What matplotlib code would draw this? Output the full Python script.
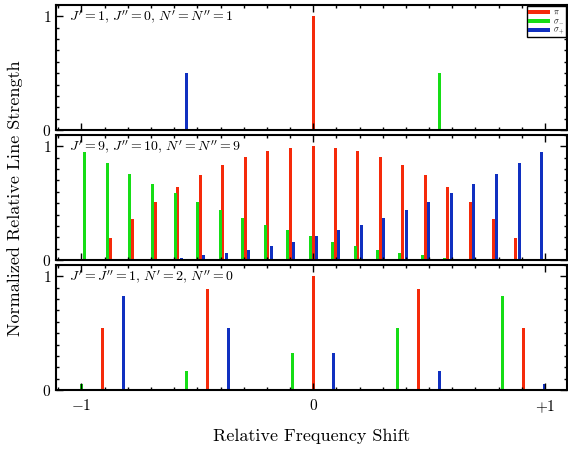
import matplotlib
matplotlib.use("Agg")
import matplotlib.pyplot as plt
from matplotlib.ticker import MultipleLocator

plt.rcParams["font.family"] = "serif"
plt.rcParams["font.serif"] = ["cmr10"]
plt.rcParams["mathtext.fontset"] = "cm"
plt.rcParams["axes.unicode_minus"] = False
plt.rcParams["axes.formatter.use_mathtext"] = True

# top panel: J'=1, J''=0, N'=N''=1
top_pi_x = [0.0]
top_pi_h = [1.0]
top_sm_x = [0.546]
top_sm_h = [0.5]
top_sp_x = [-0.546]
top_sp_h = [0.5]

# middle panel: J'=9, J''=10, N'=N''=9
mid_pi_x = [-0.875, -0.780, -0.680, -0.584, -0.488, -0.390, -0.292, -0.196, -0.098, 0.0,
            0.095, 0.193, 0.289, 0.387, 0.484, 0.581, 0.678, 0.776, 0.872]
mid_pi_h = [0.19, 0.36, 0.51, 0.64, 0.75, 0.84, 0.91, 0.96, 0.99, 1.0,
            0.99, 0.96, 0.91, 0.84, 0.75, 0.64, 0.51, 0.36, 0.19]
mid_sm_x = [-0.985, -0.888, -0.791, -0.693, -0.596, -0.499, -0.401, -0.305, -0.207, -0.111,
            -0.013, 0.084, 0.181, 0.278, 0.374, 0.472, 0.568, 0.665, 0.763]
mid_sm_h = [0.95, 0.85, 0.76, 0.67, 0.59, 0.51, 0.44, 0.37, 0.31, 0.26,
            0.21, 0.16, 0.12, 0.09, 0.06, 0.04, 0.02, 0.01, 0.004]
mid_sp_x = [-0.763, -0.665, -0.568, -0.472, -0.374, -0.278, -0.181, -0.084, 0.013, 0.111,
            0.207, 0.305, 0.401, 0.499, 0.596, 0.693, 0.791, 0.888, 0.985]
mid_sp_h = [0.004, 0.01, 0.02, 0.04, 0.06, 0.09, 0.12, 0.16, 0.21, 0.26,
            0.31, 0.37, 0.44, 0.51, 0.59, 0.67, 0.76, 0.85, 0.95]

# bottom panel: J'=J''=1, N'=2, N''=0
bot_pi_x = [-0.911, -0.456, 0.0, 0.453, 0.906]
bot_pi_h = [0.55, 0.89, 1.0, 0.89, 0.55]
bot_sm_x = [-1.0, -0.546, -0.09, 0.363, 0.817]
bot_sm_h = [0.05, 0.17, 0.33, 0.55, 0.83]
bot_sp_x = [-0.82, -0.364, 0.089, 0.544, 0.998]
bot_sp_h = [0.83, 0.55, 0.33, 0.17, 0.05]

panel_labels = [
    r"$J' = 1,\, J'' = 0,\, N' = N'' = 1$",
    r"$J' = 9,\, J'' = 10,\, N' = N'' = 9$",
    r"$J' = J'' = 1,\, N' = 2,\, N'' = 0$",
]

red = "#f52a0a"
green = "#16dd16"
blue = "#1030c0"

panels = [
    (top_pi_x, top_pi_h, top_sm_x, top_sm_h, top_sp_x, top_sp_h),
    (mid_pi_x, mid_pi_h, mid_sm_x, mid_sm_h, mid_sp_x, mid_sp_h),
    (bot_pi_x, bot_pi_h, bot_sm_x, bot_sm_h, bot_sp_x, bot_sp_h),
]

fig = plt.figure(figsize=(5.68, 4.5), dpi=100)
W, H = 568.0, 450.0
left, right = 56 / W, 567 / W
tops = [5, 135, 265]
ph = 125

bar_w = 0.013
axes = []
for i, (px, ph_, sx, sh, bx, bh) in enumerate(panels):
    y0 = 1 - (tops[i] + ph) / H
    ax = fig.add_axes([left, y0, right - left, ph / H])
    ax.bar(px, ph_, width=bar_w, color=red, linewidth=0, label=r"$\pi$")
    ax.bar(sx, sh, width=bar_w, color=green, linewidth=0, label=r"$\sigma_-$")
    ax.bar(bx, bh, width=bar_w, color=blue, linewidth=0, label=r"$\sigma_+$")
    ax.set_xlim(-1.11, 1.095)
    ax.set_ylim(0, 1.1)
    ax.set_xticks([-1, 0, 1])
    ax.set_yticks([0, 1])
    ax.xaxis.set_minor_locator(MultipleLocator(0.1))
    ax.yaxis.set_minor_locator(MultipleLocator(0.1))
    ax.tick_params(which="both", direction="in", top=True, right=True, width=1.0)
    ax.tick_params(which="major", length=5)
    ax.tick_params(which="minor", length=2.5)
    ax.tick_params(axis="x", pad=6)
    ax.set_yticklabels(["$0$", "$1$"], fontsize=11)
    if i < 2:
        ax.set_xticklabels([])
    else:
        ax.set_xticklabels(["$-1$", "$0$", "$+1$"], fontsize=11)
    for sp in ax.spines.values():
        sp.set_linewidth(1.5)
    ax.text(0.025, 0.97, panel_labels[i], transform=ax.transAxes,
            fontsize=10, ha="left", va="top")
    axes.append(ax)

leg = axes[0].legend(loc="upper right", fontsize=6, handlelength=2.6,
                     handletextpad=0.3, borderpad=0.2, labelspacing=0.0,
                     borderaxespad=0.1, fancybox=False, framealpha=1)
leg.get_frame().set_edgecolor("black")
leg.get_frame().set_linewidth(1.0)
for line in leg.get_patches():
    line.set_height(2.5)

axes[2].set_xlabel("Relative Frequency Shift", fontsize=13, labelpad=10)
fig.text(0.027, 0.56, "Normalized Relative Line Strength", rotation=90,
         fontsize=13, ha="center", va="center")

fig.savefig("out.png", dpi=100)
